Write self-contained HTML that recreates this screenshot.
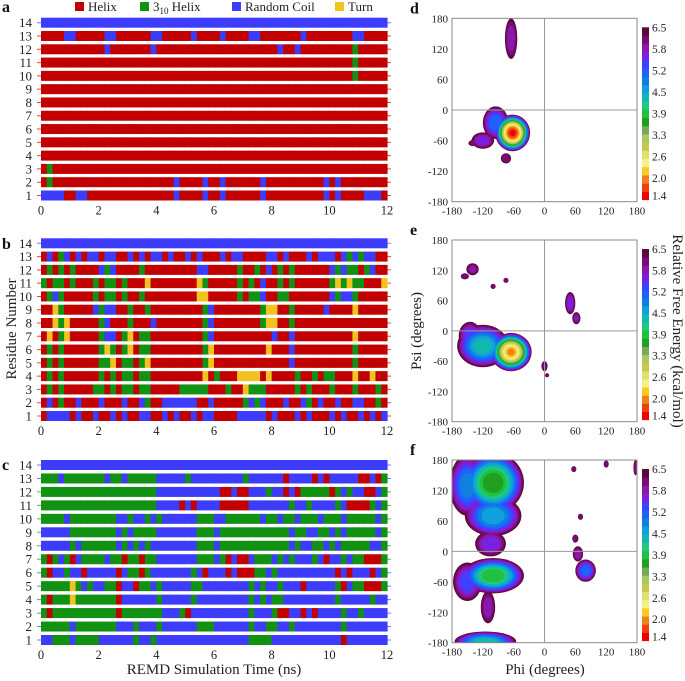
<!DOCTYPE html>
<html><head><meta charset="utf-8">
<style>
html,body{margin:0;padding:0;background:#fff;width:685px;height:681px;overflow:hidden}
svg{display:block;font-family:"Liberation Serif",serif}
text{font-family:"Liberation Serif",serif}
</style></head>
<body>
<svg id="fig" width="685" height="681" viewBox="0 0 685 681" xmlns="http://www.w3.org/2000/svg"></svg>
<script>
// ---------- data ----------
const timeTicks = [0,2,4,6,8,10,12];
const residues = [14,13,12,11,10,9,8,7,6,5,4,3,2,1];
const stateColors = {H:'#c20000', G:'#129212', C:'#3c3cfa', T:'#f2c21e'};
const panelA = [
'C'.repeat(60),
'HHHHCCHHHHHCCHHHHHHCCHHHHHCHHHHCHHHHCCHHHHHHHCHHHHHHHHCCHHHH',
'HHHHHHHHHHHCHHHHHHHCHHHHHHHHHHHHHHHHHHHHHCHHCHHHHHHHHHGHHHHH',
'HHHHHHHHHHHHHHHHHHHHHHHHHHHHHHHHHHHHHHHHHHHHHHHHHHHHHHGHHHHH',
'HHHHHHHHHHHHHHHHHHHHHHHHHHHHHHHHHHHHHHHHHHHHHHHHHHHHHHGHHHHH',
'H'.repeat(60),'H'.repeat(60),'H'.repeat(60),'H'.repeat(60),'H'.repeat(60),'H'.repeat(60),
'HGHHHHHHHHHHHHHHHHHHHHHHHHHHHHHHHHHHHHHHHHHHHHHHHHHHHHHHHHHH',
'HGHHHHHHHHHHHHHHHHHHHHHCHHHHCHHCHHHHHHCHHHHHHHHHHCHCHHHHHHHH',
'CCCCHHCCHHHHHHHHHHHHHHHCHHHHCHHCHHHHHHCHHHHHHHHHHCHCHHHHCCCH'
];
const panelB = [
'C'.repeat(60),
'HCHGCHCHCCHCCHHCHCHCCHCHHCHCHHHCHCCHHHHCCHCHHHCHCCCHCGCGCCHH',
'HGHGHGHHHHCGCHHHHGHHHHHHHHHCCHHHHHGHHGHCHGHGHHHHHHCGCGGHGCHH',
'GHGGHGHHHGHGGHGHHHTHHHHHHHHTGHHHHHGHGHCHHGHGHHHHHHGTGTGGHHHT',
'HGCGHHHHHGHGGHGHHGHHHHHHHHHTTHHHHHGHGGCHHGGHHHHHHHCGCCGHHHHH',
'HHTGHHHHHCGCCHHGHHGHHHHHHHHHGCHHHHHHHHGTTHHGHHHHHCHHHHTHHHHH',
'HHTGTHHHHHGCHHHGHHHCHHHHHHHHGCHHHHHHHHGTTHHGHHHHHHHHHHHHHHHH',
'HTHGTHHHHHGCCHGTHGGHHHHHHHHHGCHHHHHHHHHHCHHCHHHHHHHHHHTHHHHH',
'HGHGHHHHHHGTGHGTHGGHHHHHHHHHGTHHHHHHHHHTHHHCHHHHHHHHHHGHHHHH',
'HGHGHHHHHHGGTHGGHGTHHHHHHHHHGTHHHHHHHHHHHHHCHHHHHHHHHHGHHHHH',
'HGHGHHHHHHGHGHGGHGGHHHHHHHHHTHGHHHTTTTHTHHHHGHHGHGGHHHTHHTHH',
'HGHGHHHHHGGHGHGGHGGHHHHHGGGGGHHHGHHTGGGHHHHHGHGHHHGHHHGHHHGH',
'HCHGHHCHHHCHHHCHHCGHHCCCCCCHHCHHHHHGCGCHHHCHHCGHCHHCHHCCHHGH',
'HCCCCHCHHCHHCHCHHCCHHCHCHHCHCCHHHHCCCCCHCHHHCHCHHHCHCHHCHCHC'
];
const panelC = [
'C'.repeat(60),
'GGGCGGGGGGGCGGCGGGGGCCCCCGCCCCCCCCCGCCCCCCHCCCCHCHCCCCCHHCHG',
'GGGGGGGGGGGGGGGGGGGGCCCCCCCCCCCHHCHHCCCGCCHCHGGGGGHGCGCCHHCG',
'GGGGGGGGGGGGGGGGGGGGCCCCHCHCCCCHHHHHCCCCCCCGCCGCCCCGCHHHHGCG',
'GGGGCGGGGGGGGCCGCCGCGCCCCCCGGGCCGGGGGGCGGCGGCGGGCGGGCGGGGGCG',
'CCCCCGGGGGGGGCGCGGGGCCCCCCCGGGCGGGGGGGGGGGGCGGCCGGCGCGGGGGCG',
'CCCCCGCGGGGGGCGCGCGCCCCCCCCGGGCGGGGGGGGGGGGCGCCGGCGCGGGGGCCG',
'GHGCGHCGGGGCGGHGGHGGCCCCCCCGGGCGHCHHCGGGCGCGCCCGCHCCGCGGHHHG',
'GHCCGCCHCCCCCHCGGHGCCCCCCCGCHCCCHCHHHGGCGCCCCCCCCCCHCHCCCHCG',
'GGGGGTGCGCCGGHCCHGGCGCCCCCGGCCCCCCCCGCGCCGCCCHCCCCCGHCGGHHHG',
'GHGGGTGGGGGGGHCCCCCCGCCCCCGCCCCCCCCCGCGCGGCCCCCCCCCGCCCCCGCC',
'GHGGGGGGGGGGGHGGGGGGGCCCGHCCCCCCCCCCGCCCGHHCCHCHCCCCGCCGCCCC',
'GGGGGCGGGGGGGCCCGCCCGCCCCCCGGGCCCCCCGCCGGCCGCCCCCCCCGCCCCCCC',
'CCGGGCGGGGCCCCCCGCCGCCCCCCCCCCCCCCCCGGGGCCCCCCCCCCCCHCCCCCCC'
];
const angleTicks = [-180,-120,-60,0,60,120,180];
const cbarLabels = ['6.5','5.8','5.2','4.5','3.9','3.3','2.6','2.0','1.4'];
const cmap = ['#f00000','#f04010','#f08020','#ffc820','#f4f08a','#e0e070','#c8c850','#a8c860','#78a858','#20a020','#20c040','#20c880','#10b8b0','#10a0e0','#1080e0','#2060ff','#4040ff','#7a20e0','#8a18a8','#7a0a7a','#5a0a3a'];
// blobs: [phi, psi, rx, ry, minEnergy]
const blobsD = [[-62,-45,34,36,1.4],[-95,-25,25,32,5.0],[-120,-60,22,16,5.6],[-65,140,12,40,5.8],[-75,-95,10,10,6.0],[-140,-65,8,6,6.1]];
const blobsE = [[-65,-42,40,38,1.9],[-120,-30,50,42,4.3],[-145,-10,22,28,5.4],[-140,122,12,12,5.9],[-155,108,8,6,6.0],[50,55,10,22,5.6],[62,25,8,12,5.9],[-75,100,5,5,6.1],[-100,88,5,5,6.1],[0,-70,6,10,6.0],[5,-88,4,4,6.1]];
const blobsF = [[-100,135,60,60,3.5],[-150,130,35,60,4.8],[-100,70,55,40,4.5],[-100,-48,60,35,3.7],[-150,-60,28,38,5.3],[-105,15,30,25,5.5],[-110,-110,14,32,5.8],[-115,-178,60,20,4.3],[80,-38,20,22,5.0],[65,-5,10,15,5.8],[60,25,6,8,6.0],[70,68,5,6,6.0],[57,162,5,6,6.0],[120,172,5,7,6.0],[177,165,4,15,6.0]];

// ---------- helpers ----------
const svg = document.getElementById('fig');
const NS = 'http://www.w3.org/2000/svg';
function mk(tag, attrs, parent){const e=document.createElementNS(NS,tag);for(const k in attrs)e.setAttribute(k,attrs[k]);(parent||svg).appendChild(e);return e;}
function txt(x,y,s,attrs,parent){const e=mk('text',Object.assign({x:x,y:y,'font-family':'Liberation Serif, serif'},attrs||{}),parent);e.textContent=s;return e;}

// legend
const legend = mk('g',{});


const legItems=[['H',75,'Helix'],['G',140,''],['C',232,'Random Coil'],['T',335,'Turn']];
legItems.forEach(([k,x,l])=>{
  const r=mk('rect',{x:x,y:2,width:9,height:9,fill:stateColors[k]},legend);
  
  
  if(l){const t=txt(x+13,11,l,{'font-size':13,fill:'#222'},legend);
  
  }
});
const g310=txt(153,11,'3',{'font-size':13,fill:'#222'},legend);


const sub=mk('tspan',{'font-size':9,dy:3},g310);sub.textContent='10';
const sub2=mk('tspan',{dy:-3},g310);sub2.textContent=' Helix';

// ---------- stripe panels ----------
function stripePanel(name, rows, yTop, yBot, letter, letterY){
  const g=mk('g',{});
  
  
  const x0=41,x1=387;
  const xs=t=>x0+(t/12)*(x1-x0);
  const ys=i=>yTop+i*(yBot-yTop)/13;
  rows.forEach((s,i)=>{
    const yc=ys(i);
    const dom=(s.split('').sort((a,b)=>s.split(a).length-s.split(b).length).pop());
    mk('line',{x1:37,x2:391,y1:yc,y2:yc,stroke:stateColors[dom],'stroke-width':1,opacity:0.7},g);
    const n=s.length;
    for(let j=0;j<n;j++){
      const xa=xs(12*j/n), xb=xs(12*(j+1)/n);
      const r=mk('rect',{x:xa,y:yc-5,width:xb-xa+0.6,height:10,fill:stateColors[s[j]]},g);
      
      
    }
    const lab=txt(32,yc+4.5,String(residues[i]),{'font-size':13,'text-anchor':'end',fill:'#222'},g);
    
    
  });
  const ty=yBot+19;
  timeTicks.forEach(t=>{
    const l=txt(xs(t),ty,String(t),{'font-size':12.5,'text-anchor':'middle',fill:'#222'},g);
    
    
  });
  const L=txt(2,letterY,letter,{'font-size':16,'font-weight':'bold',fill:'#111'},g);
  
  
}
stripePanel('panel-a-helix-timeline',panelA,22.7,195.5,'a',12);
stripePanel('panel-b-timeline',panelB,243.3,416,'b',249);
stripePanel('panel-c-timeline',panelC,465,640,'c',470);
const ylab=txt(0,0,'Residue Number',{'font-size':15,'text-anchor':'middle',fill:'#222',transform:'translate(16,329) rotate(-90)'});


const xlab=txt(214,674,'REMD Simulation Time (ns)',{'font-size':15,'text-anchor':'middle',fill:'#222'});



// ---------- Ramachandran panels ----------
let clipN=0;
function ramaPanel(name, blobs, yTop, yBot, letter){
  const g=mk('g',{});
  
  
  const x0=452,x1=637;
  const xs=p=>x0+(p+180)/360*(x1-x0);
  const ys=p=>yTop+(180-p)/360*(yBot-yTop);
  const id='clip'+(clipN++);
  const cp=mk('clipPath',{id:id},g);
  mk('rect',{x:x0,y:yTop,width:x1-x0,height:yBot-yTop},cp);
  const inner=mk('g',{'clip-path':'url(#'+id+')'},g);
  const nL=cmap.length;
  for(let k=nL-1;k>=0;k--){
    const lv=1.4+(6.5-1.4)*k/(nL-1);
    blobs.forEach(b=>{
      const [phi,psi,rx,ry,mn]=b;
      if(lv<mn) return;
      const f=Math.sqrt((lv-mn+0.15)/(6.65-mn));
      const e=mk('ellipse',{cx:xs(phi),cy:ys(psi),rx:rx*f*(x1-x0)/360,ry:ry*f*(yBot-yTop)/360,fill:cmap[k]},inner);
      
      
    });
  }
  mk('line',{x1:x0,x2:x1,y1:ys(0),y2:ys(0),stroke:'#999','stroke-width':1},g);
  mk('line',{x1:xs(0),x2:xs(0),y1:yTop,y2:yBot,stroke:'#999','stroke-width':1},g);
  const fr=mk('rect',{x:x0,y:yTop,width:x1-x0,height:yBot-yTop,fill:'none',stroke:'#888','stroke-width':1},g);
  
  
  angleTicks.forEach(a=>{
    const t=txt(x0-4,ys(a)+4,String(a),{'font-size':11,'text-anchor':'end',fill:'#222'},g);
    
    
    const u=txt(xs(a),yBot+13,String(a),{'font-size':11,'text-anchor':'middle',fill:'#222'},g);
    
    
  });
  const cb=mk('g',{},g);
  
  
  const cy0=yTop+9,cy1=yBot-2,cx=642,cw=7;
  const bh=(cy1-cy0)/nL;
  for(let k=0;k<nL;k++){
    mk('rect',{x:cx,y:cy1-(k+1)*bh,width:cw,height:bh+0.4,fill:cmap[k]},cb);
  }
  cbarLabels.forEach((l,i)=>{
    const y=cy0+i*(cy1-cy0)/(cbarLabels.length-1);
    const t=txt(652,y+(i===cbarLabels.length-1?0:4),l,{'font-size':11.5,fill:'#222'},cb);
    
    
  });
  const L=txt(410,yTop-5,letter,{'font-size':16,'font-weight':'bold',fill:'#111'},g);
  
  
}
ramaPanel('panel-d-ramachandran',blobsD,18.3,201.7,'d');
ramaPanel('panel-e-ramachandran',blobsE,240,421.7,'e');
ramaPanel('panel-f-ramachandran',blobsF,460,642.7,'f');
const psiLab=txt(0,0,'Psi (degrees)',{'font-size':15,'text-anchor':'middle',fill:'#222',transform:'translate(421,331) rotate(-90)'});


const phiLab=txt(545,674,'Phi (degrees)',{'font-size':15,'text-anchor':'middle',fill:'#222'});


const feLab=txt(0,0,'Relative Free Energy (kcal/mol)',{'font-size':15,'text-anchor':'middle',fill:'#222',transform:'translate(673,331) rotate(90)'});


</script>
</body></html>
